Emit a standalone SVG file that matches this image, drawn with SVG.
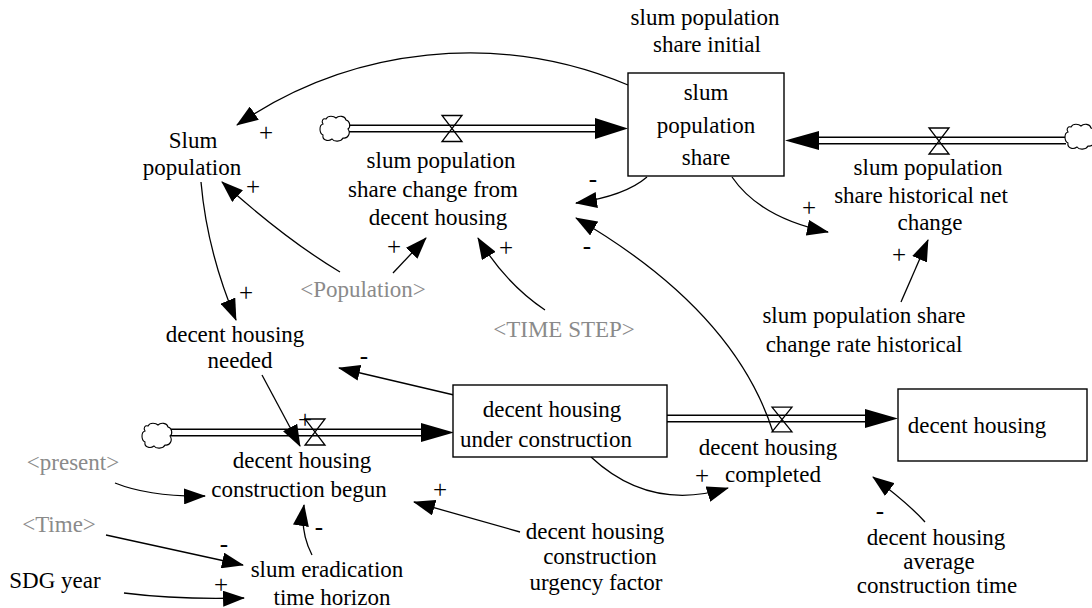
<svg xmlns="http://www.w3.org/2000/svg" width="1092" height="608" viewBox="0 0 1092 608">
<style>
text{font-family:"Liberation Serif","Times New Roman",serif;font-size:23px;fill:#000;text-anchor:middle}
text.g{fill:#8a8a8a}
text.s{font-size:25px}
.box{fill:#fff;stroke:#000;stroke-width:1.4}
.link{fill:none;stroke:#000;stroke-width:1.3;marker-end:url(#ah)}
.pipeO{fill:none;stroke:#000;stroke-width:8}
.pipeI{fill:none;stroke:#fff;stroke-width:5}
.valve{fill:none;stroke:#000;stroke-width:1.3}
.cloud{fill:#fff;stroke:#000;stroke-width:1.1}
.fh{fill:#000}
</style>
<defs>
<marker id="ah" markerUnits="userSpaceOnUse" viewBox="0 -8 22 16" markerWidth="22" markerHeight="16" refX="21" refY="0" orient="auto">
<path d="M0,-8 L22,0 L0,8 Z" fill="#000"/>
</marker>
<path id="cl" d="M6,4 C8,0 14,1 16,3 C19,0 25,1 26,5 C30,6 31,12 28,14 C31,18 28,24 23,23 C21,27 14,27 12,24 C8,27 2,25 3,20 C-1,18 -1,10 3,9 C1,6 3,3 6,4 Z"/>
<path id="vl" d="M-10,-13 L10,-13 L-10,13 L10,13 Z"/>
</defs>

<g id="connectors">
<!-- flows -->
<path class="pipeO" d="M349,128.5 L597,128.5"/>
<path class="pipeI" d="M349,128.5 L597,128.5"/>
<polygon class="fh" points="628,128.5 595,118 595,139"/>
<path class="pipeO" d="M817,140.5 L1066,140.5"/>
<path class="pipeI" d="M817,140.5 L1066,140.5"/>
<polygon class="fh" points="785,140.5 819,131 819,150"/>
<path class="pipeO" d="M171,432.5 L423,432.5"/>
<path class="pipeI" d="M171,432.5 L423,432.5"/>
<polygon class="fh" points="454,432.5 421,423 421,442"/>
<path class="pipeO" d="M667,418.5 L867,418.5"/>
<path class="pipeI" d="M667,418.5 L867,418.5"/>
<polygon class="fh" points="898,418.5 865,409 865,428"/>
<!-- links -->
<path class="link" d="M628,85 A410,410 0 0,0 237,125"/>
<path class="link" d="M647,177 Q625,196 576,203"/>
<path class="link" d="M732,177 Q760,218 828,232"/>
<path class="link" d="M901,302 Q914,272 928,240"/>
<path class="link" d="M340,272 Q285,239 222,182"/>
<path class="link" d="M393,273 L426,238"/>
<path class="link" d="M545,310 Q505,283 478,238"/>
<path class="link" d="M201,182 Q207,251 236,320"/>
<path class="link" d="M454,395 L339,368"/>
<path class="link" d="M262,375 L300,446"/>
<path class="link" d="M115,483 Q150,497 205,496"/>
<path class="link" d="M520,532 L414,502"/>
<path class="link" d="M106,535 L243,565"/>
<path class="link" d="M124,593 Q180,600 244,598"/>
<path class="link" d="M312,555 Q300,532 304,505"/>
<path class="link" d="M591,457 Q650,512 728,488"/>
<path class="link" d="M773,432 Q734,310 576,218"/>
<path class="link" d="M925,522 Q909,504 873,477"/>
<!-- signs -->
<text class="s" x="266" y="141">+</text>
<text class="s" x="253" y="195">+</text>
<text class="s" x="593" y="187">-</text>
<text class="s" x="809" y="216">+</text>
<text class="s" x="587" y="254">-</text>
<text class="s" x="394" y="255">+</text>
<text class="s" x="506" y="256">+</text>
<text class="s" x="899" y="263">+</text>
<text class="s" x="246" y="301">+</text>
<text class="s" x="364" y="364">-</text>
<text class="s" x="305" y="428">+</text>
<text class="s" x="702" y="484">+</text>
<text class="s" x="440" y="498">+</text>
<text class="s" x="319" y="535">-</text>
<text class="s" x="224" y="552">-</text>
<text class="s" x="221" y="593">+</text>
<text class="s" x="880" y="519">-</text>
</g>

<g id="cloud-a"><use href="#cl" class="cloud" transform="translate(320,115)"/></g>
<g id="cloud-b"><use href="#cl" class="cloud" transform="translate(1065,123)"/></g>
<g id="cloud-c"><use href="#cl" class="cloud" transform="translate(142,422)"/></g>

<g id="valve-share-change"><use href="#vl" class="valve" transform="translate(452,128.5)"/></g>
<g id="valve-historical"><use href="#vl" class="valve" transform="translate(939,141)"/></g>
<g id="valve-begun"><use href="#vl" class="valve" transform="translate(315,432)"/></g>
<g id="valve-completed"><use href="#vl" class="valve" transform="translate(782,419.5) scale(1,0.96)"/></g>

<g id="slum-population-share">
<rect class="box" x="628" y="73" width="156" height="103"/>
<text x="706" y="100">slum</text>
<text x="706" y="133">population</text>
<text x="706" y="165">share</text>
</g>
<g id="decent-housing-under-construction">
<rect class="box" x="453" y="385" width="214" height="72"/>
<text x="552" y="417">decent housing</text>
<text x="546" y="447">under construction</text>
</g>
<g id="decent-housing">
<rect class="box" x="898" y="389" width="189" height="72"/>
<text x="977" y="433">decent housing</text>
</g>

<g id="slum-population-share-initial">
<text x="705" y="25">slum population</text>
<text x="707" y="52">share initial</text>
</g>
<g id="slum-population">
<text x="193" y="148">Slum</text>
<text x="192" y="175">population</text>
</g>
<g id="slum-population-share-change-from-decent-housing">
<text x="441" y="168">slum population</text>
<text x="433" y="197">share change from</text>
<text x="438" y="225">decent housing</text>
</g>
<g id="slum-population-share-historical-net-change">
<text x="928" y="175">slum population</text>
<text x="921" y="203">share historical net</text>
<text x="930" y="230">change</text>
</g>
<g id="population-shadow"><text class="g" x="363" y="297">&lt;Population&gt;</text></g>
<g id="time-step-shadow"><text class="g" x="564" y="337">&lt;TIME STEP&gt;</text></g>
<g id="slum-population-share-change-rate-historical">
<text x="864" y="323">slum population share</text>
<text x="864" y="352">change rate historical</text>
</g>
<g id="decent-housing-needed">
<text x="235" y="342">decent housing</text>
<text x="240" y="368">needed</text>
</g>
<g id="decent-housing-completed">
<text x="768" y="455">decent housing</text>
<text x="773" y="482">completed</text>
</g>
<g id="decent-housing-construction-begun">
<text x="302" y="468">decent housing</text>
<text x="299" y="497">construction begun</text>
</g>
<g id="present-shadow"><text class="g" x="73" y="470">&lt;present&gt;</text></g>
<g id="time-shadow"><text class="g" x="59" y="532">&lt;Time&gt;</text></g>
<g id="sdg-year"><text x="55" y="588">SDG year</text></g>
<g id="slum-eradication-time-horizon">
<text x="327" y="577">slum eradication</text>
<text x="332" y="605">time horizon</text>
</g>
<g id="decent-housing-construction-urgency-factor">
<text x="595" y="539">decent housing</text>
<text x="600" y="564">construction</text>
<text x="596" y="590">urgency factor</text>
</g>
<g id="decent-housing-average-construction-time">
<text x="936" y="545">decent housing</text>
<text x="939" y="569">average</text>
<text x="937" y="593">construction time</text>
</g>
</svg>
